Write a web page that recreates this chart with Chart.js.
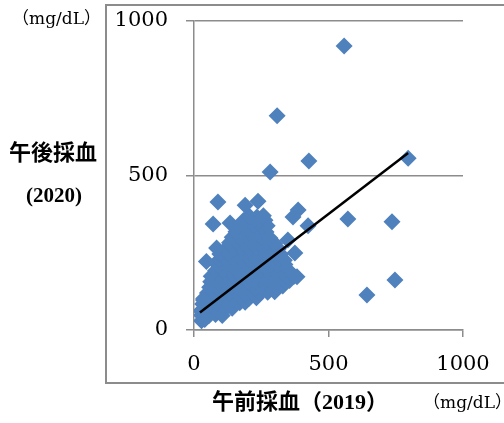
<!DOCTYPE html>
<html>
<head>
<meta charset="utf-8">
<script src="https://cdn.jsdelivr.net/npm/chart.js@4.4.0/dist/chart.umd.min.js"></script>
<style>
body{margin:0;background:#fff;}
canvas{display:block;}
</style>
</head>
<body>
<canvas id="mycanvas" width="504" height="423"></canvas>
<script>
// 午前採血 (2019) values, row by row through the dense cluster, then the scattered ones
var amValues = [
	28,40,
	28,55,80,105,
	30,58,86,114,142,
	32,60,88,116,144,170,190,
	36,64,92,120,148,176,204,232,
	50,78,106,134,162,190,218,246,274,300,
	58,86,114,142,170,198,226,254,282,310,330,
	62,90,118,146,174,202,230,258,286,314,340,355,
	64,92,120,148,176,204,232,260,288,316,344,372,
	80,108,136,164,192,220,248,276,304,330,350,
	88,116,144,172,200,228,256,284,312,338,
	94,122,150,178,206,234,262,290,316,336,
	96,128,156,184,212,240,268,296,322,
	120,148,176,204,232,260,288,314,
	132,160,188,216,244,272,300,
	142,170,198,226,254,282,
	156,184,212,240,268,
	166,194,222,250,272,
	184,212,240,264,
	206,234,258,
	558,309,427,283,796,89,190,238,71,134,387,368,424,84,46,572,736,747,643,35,28,375,349,383
];
// 午後採血 (2020) values, same order
var pmValues = [
	30,34,
	48,46,50,47,
	66,68,64,67,70,
	84,82,86,83,85,88,90,
	102,104,100,103,101,104,102,104,
	120,118,122,119,121,118,122,120,122,124,
	138,140,136,139,137,140,136,139,137,140,142,
	156,154,158,155,157,154,158,155,157,154,158,160,
	174,176,172,175,173,176,172,175,173,176,172,174,
	192,190,194,191,193,190,194,191,193,190,194,
	210,212,208,211,209,212,208,211,209,212,
	228,226,230,227,229,226,230,227,229,226,
	246,248,244,247,245,248,244,247,245,
	264,262,266,263,265,262,266,263,
	282,284,280,283,281,284,280,
	300,298,302,299,301,298,
	318,320,316,319,317,
	336,334,338,335,337,
	354,356,352,355,
	368,366,370,
	919,693,547,511,556,414,404,417,343,346,388,366,337,265,222,359,350,162,113,97,60,249,291,172
];
// trend line ends
var trendX = [22, 796];
var trendY = [57, 573];
var axisTicks = [0, 500, 1000];

var points = [];
for (var i in amValues) {
	points.push({x: amValues[i], y: pmValues[i]});
}
var trend = [];
for (var j in trendX) {
	trend.push({x: trendX[j], y: trendY[j]});
}

var gray = '#8c8c8c';
var serif = "'DejaVu Serif', 'Noto Sans CJK JP', serif";

var labelsPlugin = {
	id: 'labels',
	beforeDraw: function(chart) {
		var ctx = chart.ctx;
		ctx.save();
		ctx.strokeStyle = gray;
		ctx.lineWidth = 2;
		ctx.strokeRect(106, 5, 420, 378);
		ctx.restore();
	},
	afterDraw: function(chart) {
		var ctx = chart.ctx;
		ctx.save();
		ctx.fillStyle = '#000';
		ctx.textBaseline = 'middle';

		ctx.font = "17px " + serif;
		ctx.textAlign = 'right';
		ctx.fillText('（mg/dL）', 101, 20);
		ctx.fillText('（mg/dL）', 512, 404);

		ctx.textAlign = 'center';
		ctx.font = "bold 22px 'Noto Sans CJK JP'";
		ctx.fillText('午後採血', 53, 152);
		ctx.font = "bold 21px 'Liberation Serif', serif";
		ctx.fillText('(2020)', 54, 197);

		ctx.textAlign = 'left';
		ctx.font = "bold 22px 'Liberation Serif', 'Noto Sans CJK JP'";
		ctx.fillText('午前採血（2019）', 212, 403);
		ctx.restore();
	}
};

function plain(v) { return String(v); }

var ctx = document.getElementById('mycanvas');
var chart = new Chart(ctx, {
	type: 'scatter',
	data: {
		datasets: [
			{
				type: 'line',
				data: trend,
				borderColor: '#000',
				borderWidth: 2.5,
				pointRadius: 0,
				fill: false,
				order: 0
			},
			{
				data: points,
				pointStyle: 'rectRot',
				pointRadius: 8.5,
				pointHoverRadius: 8.5,
				backgroundColor: '#4f81bd',
				borderColor: '#4f81bd',
				borderWidth: 0,
				order: 1
			}
		]
	},
	options: {
		responsive: false,
		animation: false,
		layout: {padding: {left: 0, right: 41, top: 21, bottom: 0}},
		plugins: {legend: {display: false}, tooltip: {enabled: false}},
		scales: {
			x: {
				type: 'linear',
				min: 0,
				max: 1000,
				afterBuildTicks: function(scale) {
					scale.ticks = axisTicks.map(function(v) { return {value: v}; });
				},
				afterFit: function(scale) {
					scale.height = 93;
					scale.paddingLeft = 0;
					scale.paddingRight = 0;
				},
				ticks: {color: '#000', font: {family: serif, size: 21}, padding: 15, maxRotation: 0, callback: plain},
				grid: {drawOnChartArea: false, drawTicks: true, tickLength: 7, color: gray, lineWidth: 1.5},
				border: {color: gray, width: 1.5}
			},
			y: {
				type: 'linear',
				min: 0,
				max: 1000,
				afterBuildTicks: function(scale) {
					scale.ticks = axisTicks.map(function(v) { return {value: v}; });
				},
				afterFit: function(scale) {
					scale.width = 194;
					scale.paddingTop = 0;
					scale.paddingBottom = 0;
				},
				ticks: {color: '#000', font: {family: serif, size: 21}, padding: 18, callback: plain},
				grid: {drawTicks: true, tickLength: 8, color: gray, lineWidth: 1.5},
				border: {color: gray, width: 1.5}
			}
		}
	},
	plugins: [labelsPlugin]
});
</script>
</body>
</html>
